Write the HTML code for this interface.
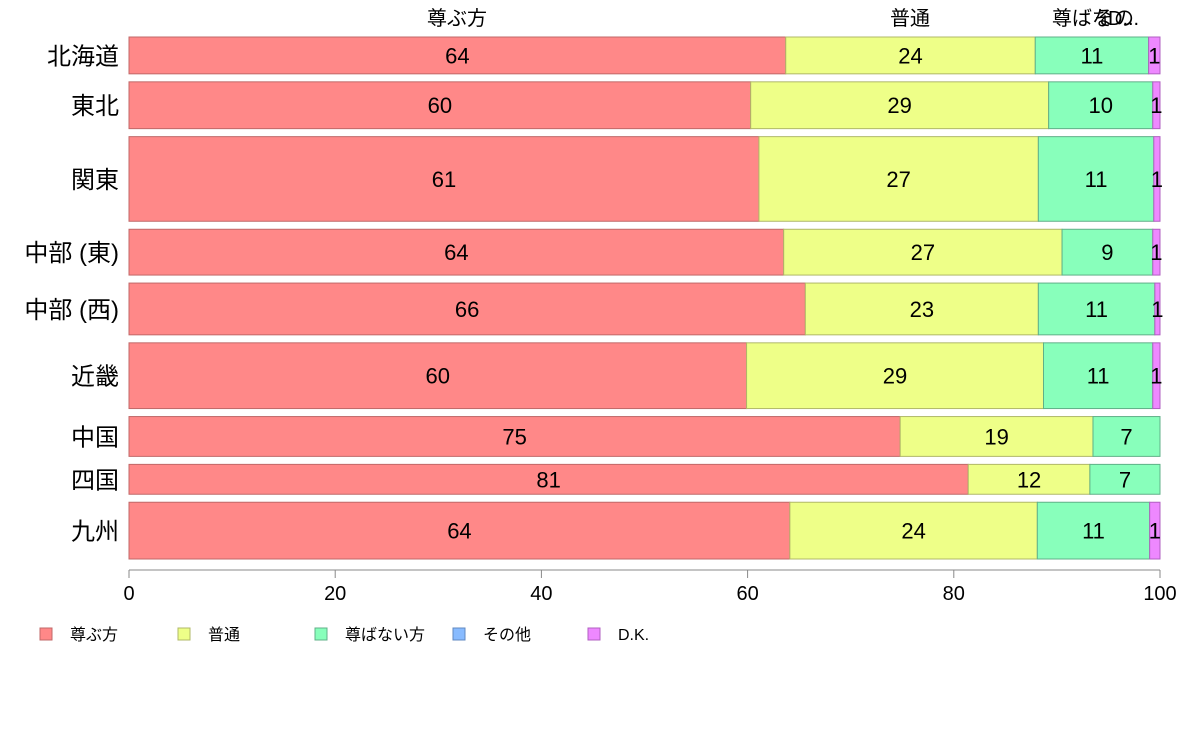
<!DOCTYPE html>
<html><head><meta charset="utf-8"><style>
body{margin:0;background:#fff;}
svg text{font-family:"Liberation Sans","Noto Sans CJK JP",sans-serif;}
</style></head><body>
<svg id="chart" width="1188" height="736" xmlns="http://www.w3.org/2000/svg"></svg>
<script>
const categories=["北海道","東北","関東","中部 (東)","中部 (西)","近畿","中国","四国","九州"];
const weights=[37,47,85,46,52,66,40,30,57];
const seriesNames=["尊ぶ方","普通","尊ばない方","その他","D.K."];
const sRespect=[63.7,60.3,61.1,63.5,65.6,59.9,74.8,81.4,64.1];
const sNormal=[24.2,28.9,27.1,27.0,22.6,28.8,18.7,11.8,24.0];
const sNot=[11.0,10.1,11.2,8.8,11.3,10.6,6.5,6.8,10.9];
const sOther=[0,0,0,0,0,0,0,0,0];
const sDK=[1.1,0.7,0.6,0.7,0.5,0.7,0,0,1.0];
const xTicks=[0,20,40,60,80,100];
const colors=["#FF8888","#EEFF88","#88FFBB","#88BBFF","#EE88FF"];
const strokes=["#c06868","#b0b868","#60b088","#6088c0","#b060c0"];
const series=[sRespect,sNormal,sNot,sOther,sDK];
const svg=document.getElementById('chart');
const NS="http://www.w3.org/2000/svg";
const X0=129,X1=1160,Y0=37,Y1=559,GAP=8;
const x=v=>X0+(X1-X0)*v/100;
const totalW=weights.reduce((a,b)=>a+b,0);
const unit=(Y1-Y0-GAP*(categories.length-1))/totalW;
function mk(tag,attrs,txt){const e=document.createElementNS(NS,tag);for(const k in attrs)e.setAttribute(k,attrs[k]);if(txt!==undefined)e.textContent=txt;svg.appendChild(e);return e;}
let y=Y0;
categories.forEach((c,i)=>{
  const h=weights[i]*unit;
  let cum=0;
  series.forEach((s,j)=>{
    const v=s[i];
    if(v>0){
      const r=mk('rect',{x:x(cum),y:y,width:x(cum+v)-x(cum),height:h,fill:colors[j],stroke:strokes[j],'stroke-width':1});
      
      
      if(v>=0.5){
        const t=mk('text',{x:(x(cum)+x(cum+v))/2,y:y+h/2+8,'font-size':22,'text-anchor':'middle',fill:'#000'},String(Math.round(v)));
        
        
      }
    }
    cum+=v;
  });
  const l=mk('text',{x:119,y:y+h/2+9,'font-size':24,'text-anchor':'end',fill:'#000'},c);
  
  
  y+=h+GAP;
});
// top labels
const tops=[["尊ぶ方",457,"middle"],["普通",910,"middle"],["尊ばな",1052,"start"],["その",1094,"start"],["D...",1108,"start"]];
tops.forEach(t=>{const e=mk('text',{x:t[1],y:25,'font-size':20,'text-anchor':t[2],fill:'#000'},t[0]);
});
// axis
const ax=mk('line',{x1:X0,y1:570,x2:X1,y2:570,stroke:'#888','stroke-width':1});

xTicks.forEach(v=>{
  const tk=mk('line',{x1:x(v),y1:570,x2:x(v),y2:578,stroke:'#888'});
  
  const tl=mk('text',{x:x(v),y:600,'font-size':20,'text-anchor':'middle',fill:'#000'},String(v));
  
});
// legend
const lx=[40,178,315,453,588];
seriesNames.forEach((n,j)=>{
  const r=mk('rect',{x:lx[j],y:628,width:12,height:12,fill:colors[j],stroke:strokes[j]});
  
  const t=mk('text',{x:lx[j]+30,y:640,'font-size':16,fill:'#000'},n);
  
});
</script>
</body></html>
